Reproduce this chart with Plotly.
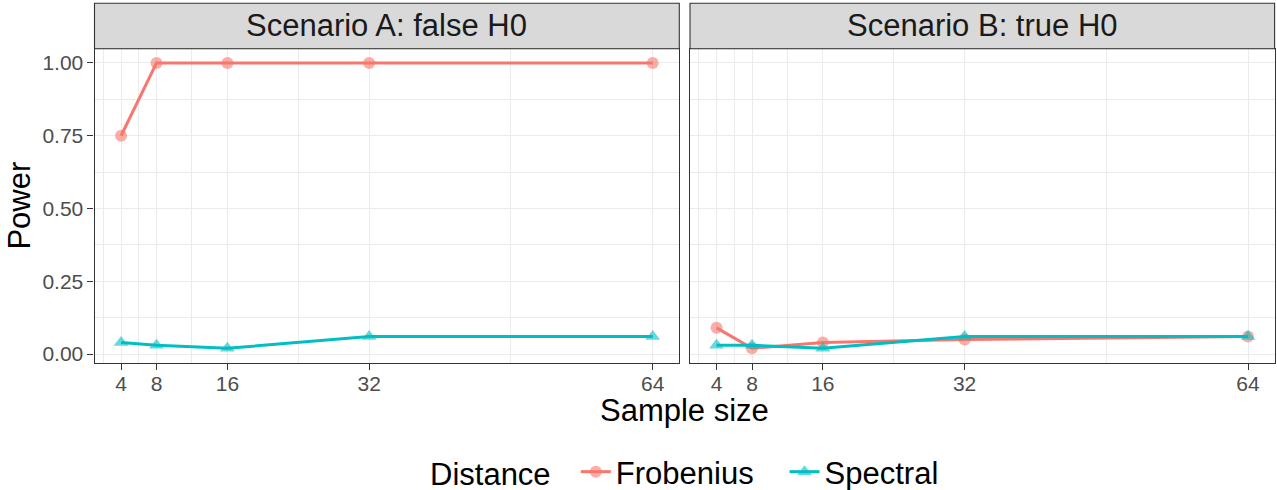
import plotly.graph_objects as go

sample_sizes = [4, 8, 16, 32, 64]
panels = ["Scenario A: false H0", "Scenario B: true H0"]
frob_A = [0.75, 1.00, 1.00, 1.00, 1.00]
spec_A = [0.04, 0.03, 0.02, 0.06, 0.06]
frob_B = [0.09, 0.02, 0.04, 0.05, 0.06]
spec_B = [0.03, 0.03, 0.02, 0.06, 0.06]
y_ticks = [0.0, 0.25, 0.5, 0.75, 1.0]
y_tick_labels = ["0.00", "0.25", "0.50", "0.75", "1.00"]
x_minor = [2, 6, 12, 24, 48]
y_minor = [0.125, 0.375, 0.625, 0.875]

RED = "#F8766D"
CYAN = "#00BFC4"
W, H = 1277, 490
FONT = "Liberation Sans, Arial, sans-serif"
BIG = 31
TICK = 21
NB = "\u00a0"

def px_x(p):
    return p / W

def px_y(p):
    return 1 - p / H

top_px, bot_px = 48.7, 362.5
strip_top = 3.3
dA = [px_x(94.5), px_x(679.3)]
dB = [px_x(690.0), px_x(1274.6)]
ydom = [px_y(bot_px), px_y(top_px)]

fig = go.Figure()

data = [(frob_A, spec_A, "x", "y"), (frob_B, spec_B, "x2", "y2")]
for i, (fr, sp, xa, ya) in enumerate(data):
    fig.add_trace(go.Scatter(
        x=sample_sizes, y=fr, xaxis=xa, yaxis=ya, mode="lines+markers",
        name="Frobenius" + NB * 3, legendgroup="F", showlegend=(i == 0),
        line=dict(color=RED, width=3),
        marker=dict(symbol="circle", size=12, color=RED, opacity=0.6, line=dict(width=0)),
    ))
for i, (fr, sp, xa, ya) in enumerate(data):
    fig.add_trace(go.Scatter(
        x=sample_sizes, y=sp, xaxis=xa, yaxis=ya, mode="lines+markers",
        name="Spectral", legendgroup="S", showlegend=(i == 0),
        line=dict(color=CYAN, width=3),
        marker=dict(symbol="triangle-up", size=13, color=CYAN, opacity=0.6, line=dict(width=0)),
    ))

xcommon = dict(
    range=[1, 67], tickvals=sample_sizes, ticktext=[str(v) for v in sample_sizes],
    showgrid=True, gridcolor="#EBEBEB", gridwidth=1.1, zeroline=False,
    ticks="outside", ticklen=6, tickcolor="#333333", tickwidth=1.1,
    tickfont=dict(family=FONT, size=TICK, color="#4D4D4D"),
    ticklabelstandoff=-4,
    showline=True, linecolor="#333333", linewidth=1.1, mirror=True,
    minor=dict(tickvals=x_minor, showgrid=True, gridcolor="#EBEBEB", gridwidth=0.55, ticks=""),
    automargin=False,
)
ycommon = dict(
    range=[-0.029, 1.049], tickvals=y_ticks, ticktext=y_tick_labels,
    showgrid=True, gridcolor="#EBEBEB", gridwidth=1.1, zeroline=False,
    tickcolor="#333333", tickwidth=1.1, ticklen=6,
    tickfont=dict(family=FONT, size=TICK, color="#4D4D4D"),
    showline=True, linecolor="#333333", linewidth=1.1, mirror=True,
    minor=dict(tickvals=y_minor, showgrid=True, gridcolor="#EBEBEB", gridwidth=0.55, ticks=""),
    domain=ydom, automargin=False,
)

fig.update_layout(
    width=W, height=H,
    margin=dict(l=0, r=0, t=0, b=0, autoexpand=False),
    paper_bgcolor="white", plot_bgcolor="white",
    font=dict(family=FONT, color="#000000"),
    xaxis=dict(domain=dA, anchor="y", **xcommon),
    xaxis2=dict(domain=dB, anchor="y2", **xcommon),
    yaxis=dict(anchor="x", ticks="outside", showticklabels=True, **ycommon),
    yaxis2=dict(anchor="x2", ticks="", showticklabels=False, **ycommon),
    legend=dict(
        orientation="h", x=px_x(428), xanchor="left", y=px_y(472), yanchor="middle",
        title=dict(text="Distance" + NB * 2, font=dict(family=FONT, size=BIG, color="#000000"), side="left"),
        font=dict(family=FONT, size=BIG, color="#000000"),
        bgcolor="rgba(0,0,0,0)", itemwidth=30,
    ),
    showlegend=True,
)

# Facet strips
for dom, label in zip([dA, dB], panels):
    fig.add_shape(type="rect", xref="paper", yref="paper",
                  x0=dom[0], x1=dom[1], y0=px_y(top_px), y1=px_y(strip_top),
                  fillcolor="#D9D9D9", line=dict(color="#333333", width=1.1), layer="above")
    fig.add_annotation(text=label, xref="paper", yref="paper",
                       x=(dom[0] + dom[1]) / 2, y=(px_y(top_px) + px_y(strip_top)) / 2,
                       xanchor="center", yanchor="middle", showarrow=False,
                       font=dict(family=FONT, size=BIG, color="#1A1A1A"))

# Axis titles
fig.add_annotation(text="Sample size", xref="paper", yref="paper",
                   x=(dA[0] + dB[1]) / 2, y=px_y(410), xanchor="center", yanchor="middle",
                   showarrow=False, font=dict(family=FONT, size=BIG, color="#000000"))
fig.add_annotation(text="Power", xref="paper", yref="paper",
                   x=px_x(20), y=(ydom[0] + ydom[1]) / 2, xanchor="center", yanchor="middle",
                   textangle=-90, showarrow=False, font=dict(family=FONT, size=BIG, color="#000000"))

fig.write_html("out.html", config={"displayModeBar": False},
               post_script="document.body.style.margin='0';document.body.style.overflow='hidden';")
